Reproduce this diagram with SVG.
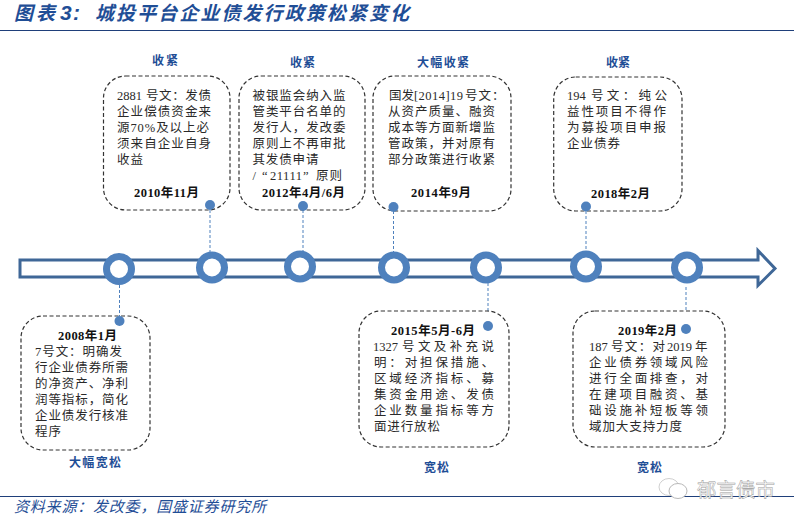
<svg xmlns="http://www.w3.org/2000/svg" width="801" height="523" viewBox="0 0 801 523">
<style>
text{font-family:"Liberation Serif","Noto Sans CJK SC",serif}
.b{font-size:12.5px;fill:#2a2a2a}
.d{font-size:12.5px;font-weight:700;fill:#111}
.l{font-size:12px;font-weight:700;fill:#1f4e96}
.box{fill:#fff;stroke:#333;stroke-width:1.2;stroke-dasharray:4 2.5}
.ring{fill:#fff;stroke:#4f81bd;stroke-width:7}
.dot{fill:#4f81bd}
.con{stroke:#4f81bd;stroke-width:1;stroke-dasharray:3 2;fill:none}
.rule{stroke:#1f3f7a;stroke-width:1.2}
</style>
<rect width="801" height="523" fill="#fff"/>
<g id="header">
<text x="14" y="20" font-size="19" font-style="italic" font-weight="700" fill="#1f4e96" textLength="41">图表</text>
<text x="60" y="20" font-size="21" font-style="italic" font-weight="700" fill="#1f4e96" style="font-family:'Liberation Sans',sans-serif" textLength="20">3:</text>
<text x="95" y="20" font-size="19" font-style="italic" font-weight="700" fill="#1f4e96" textLength="314">城投平台企业债发行政策松紧变化</text>
<line class="rule" x1="0" y1="30.5" x2="794" y2="30.5"/>
</g>
<g id="timeline">
<path d="M20 260H758V250.500L775 268.500L758 285.500V277H20Z" fill="#fff" stroke="#3f6797" stroke-width="3"/>
</g>
<g id="connectors">
<line class="con" x1="210" y1="210" x2="210" y2="254"/>
<line class="con" x1="303" y1="210" x2="303" y2="252"/>
<line class="con" x1="393.500" y1="211" x2="393.500" y2="254"/>
<line class="con" x1="586" y1="211" x2="586" y2="252"/>
<line class="con" x1="119.500" y1="285" x2="119.500" y2="316"/>
<line class="con" x1="488" y1="283" x2="488" y2="322"/>
<line class="con" x1="686" y1="287" x2="686" y2="324"/>
</g>
<g id="ring-2008"><circle class="ring" cx="119" cy="269" r="12.500"/></g>
<g id="ring-2010"><circle class="ring" cx="212" cy="267.500" r="12.500"/></g>
<g id="ring-2012"><circle class="ring" cx="300" cy="266.500" r="12.500"/></g>
<g id="ring-2014"><circle class="ring" cx="394" cy="267.500" r="12.500"/></g>
<g id="ring-2015"><circle class="ring" cx="486" cy="267.500" r="12.500"/></g>
<g id="ring-2018"><circle class="ring" cx="586" cy="266.500" r="12.500"/></g>
<g id="ring-2019"><circle class="ring" cx="687" cy="267.500" r="12.500"/></g>
<g id="node-2010">
<text class="l" x="152" y="65" textLength="26">收紧</text>
<rect class="box" x="103.500" y="76" width="126.500" height="134" rx="22"/>
<circle class="dot" cx="210" cy="205" r="5"/>
<text class="b" x="117" y="100">2881</text>
<text class="b" x="146" y="100" textLength="65">号文：发债</text>
<text class="b" x="117" y="116" textLength="94">企业偿债资金来</text>
<text class="b" x="117" y="132" textLength="92">源70%及以上必</text>
<text class="b" x="117" y="148" textLength="94">须来自企业自身</text>
<text class="b" x="117" y="164" textLength="26">收益</text>
<text class="d" x="134" y="197" textLength="65">2010年11月</text>
</g>
<g id="node-2012">
<text class="l" x="290" y="67" textLength="25">收紧</text>
<rect class="box" x="239" y="76" width="126" height="134" rx="22"/>
<circle class="dot" cx="303" cy="206" r="5"/>
<text class="b" x="252.500" y="100" textLength="93">被银监会纳入监</text>
<text class="b" x="252.500" y="116" textLength="93">管类平台名单的</text>
<text class="b" x="252.500" y="132" textLength="93">发行人，发改委</text>
<text class="b" x="252.500" y="148" textLength="93">原则上不再审批</text>
<text class="b" x="252.500" y="164" textLength="66">其发债申请</text>
<text class="b" x="252.500" y="180">/</text>
<text class="b" x="262" y="180" style="font-family:'Liberation Serif',serif">“</text>
<text class="b" x="270" y="180" textLength="32">21111</text>
<text class="b" x="303" y="180" style="font-family:'Liberation Serif',serif">”</text>
<text class="b" x="316" y="180" textLength="26">原则</text>
<text class="d" x="262" y="197" textLength="83">2012年4月/6月</text>
</g>
<g id="node-2014">
<text class="l" x="417" y="67" textLength="52">大幅收紧</text>
<rect class="box" x="373" y="76" width="138" height="135" rx="22"/>
<circle class="dot" cx="393.500" cy="207" r="5"/>
<text class="b" x="389" y="100" textLength="25">国发</text>
<text class="b" x="414" y="100" textLength="49">[2014]19</text>
<text class="b" x="465" y="100" textLength="26">号文</text>
<text class="b" x="492" y="100">：</text>
<text class="b" x="388" y="116" textLength="107">从资产质量、融资</text>
<text class="b" x="388" y="132" textLength="107">成本等方面新增监</text>
<text class="b" x="388" y="148" textLength="107">管政策，并对原有</text>
<text class="b" x="388" y="164" textLength="107">部分政策进行收紧</text>
<text class="d" x="411" y="197" textLength="60">2014年9月</text>
</g>
<g id="node-2018">
<text class="l" x="606" y="67" textLength="24">收紧</text>
<rect class="box" x="553.700" y="77" width="128.300" height="134" rx="22"/>
<circle class="dot" cx="586" cy="206.500" r="5"/>
<text class="b" x="567" y="100">194</text>
<text class="b" x="591" y="100" textLength="76">号文：纯公</text>
<text class="b" x="567" y="116" textLength="99">益性项目不得作</text>
<text class="b" x="567" y="132" textLength="99">为募投项目申报</text>
<text class="b" x="567" y="148" textLength="53">企业债券</text>
<text class="d" x="591" y="198" textLength="59">2018年2月</text>
</g>
<g id="node-2008">
<rect class="box" x="21" y="316" width="129" height="134" rx="22"/>
<circle class="dot" cx="119.500" cy="321" r="5"/>
<text class="d" x="58" y="340" textLength="59">2008年1月</text>
<text class="b" x="35" y="356" textLength="87">7号文：明确发</text>
<text class="b" x="35" y="372" textLength="93">行企业债券所需</text>
<text class="b" x="35" y="388" textLength="93">的净资产、净利</text>
<text class="b" x="35" y="404" textLength="93">润等指标，简化</text>
<text class="b" x="35" y="420" textLength="93">企业债发行核准</text>
<text class="b" x="35" y="436" textLength="26">程序</text>
<text class="l" x="69" y="467" textLength="52">大幅宽松</text>
</g>
<g id="node-2015">
<rect class="box" x="359" y="311" width="150" height="136" rx="22"/>
<circle class="dot" cx="488" cy="326" r="5"/>
<text class="d" x="391" y="335" textLength="84">2015年5月-6月</text>
<text class="b" x="373" y="351">1327</text>
<text class="b" x="402" y="351" textLength="92">号文及补充说</text>
<text class="b" x="374" y="367" textLength="120">明：对担保措施、</text>
<text class="b" x="374" y="383" textLength="120">区域经济指标、募</text>
<text class="b" x="374" y="399" textLength="120">集资金用途、发债</text>
<text class="b" x="374" y="415" textLength="120">企业数量指标等方</text>
<text class="b" x="374" y="431" textLength="66">面进行放松</text>
<text class="l" x="424" y="472" textLength="25">宽松</text>
</g>
<g id="node-2019">
<rect class="box" x="573" y="311" width="152" height="136" rx="22"/>
<circle class="dot" cx="686" cy="329" r="5"/>
<text class="d" x="618" y="335" textLength="59">2019年2月</text>
<text class="b" x="589" y="351">187</text>
<text class="b" x="611" y="351" textLength="54">号文：对</text>
<text class="b" x="667" y="351">2019</text>
<text class="b" x="695" y="351">年</text>
<text class="b" x="589" y="367" textLength="119">企业债券领域风险</text>
<text class="b" x="589" y="383" textLength="119">进行全面排查，对</text>
<text class="b" x="589" y="399" textLength="119">在建项目融资、基</text>
<text class="b" x="589" y="415" textLength="119">础设施补短板等领</text>
<text class="b" x="589" y="431" textLength="93">域加大支持力度</text>
<text class="l" x="637" y="472" textLength="25">宽松</text>
</g>
<g id="footer">
<line class="rule" x1="0" y1="496.500" x2="794" y2="496.500"/>
<text x="14" y="512" font-size="15" font-style="italic" fill="#1f4e96" textLength="252">资料来源：发改委，国盛证券研究所</text>
</g>
<g id="watermark">
<ellipse cx="669" cy="487" rx="10" ry="8.500" fill="none" stroke="#d0d0d0" stroke-width="1"/>
<ellipse cx="678" cy="491" rx="9" ry="7.500" fill="#fff" stroke="#b8b8b8" stroke-width="1"/>
<text x="697" y="497" font-size="19.500" fill="#fff" stroke="#9a9a9a" stroke-width="0.500" style="font-family:'Noto Sans CJK SC',sans-serif" textLength="78">郁言债市</text>
</g>
</svg>
